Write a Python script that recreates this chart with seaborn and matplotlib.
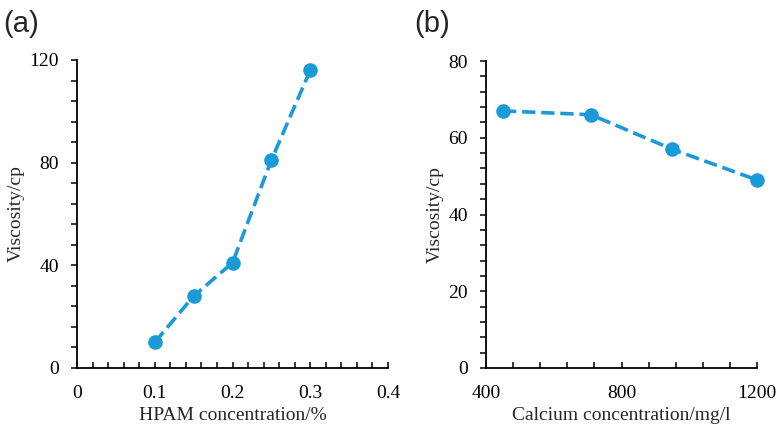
import matplotlib
matplotlib.use("Agg")
import matplotlib.pyplot as plt
import seaborn as sns
import numpy as np
from matplotlib.ticker import MultipleLocator

hpam_conc = [0.1, 0.15, 0.2, 0.25, 0.3]
hpam_visc = [10, 28, 41, 81, 116]
ca_conc = [450, 710, 950, 1200]
ca_visc = [67, 66, 57, 49]

sns.set_style("ticks")
plt.rcParams['font.family'] = ['Liberation Serif', 'DejaVu Serif']

color = '#1a9ad8'
fig = plt.figure(figsize=(7.82, 4.32), dpi=100)
axa = fig.add_axes([77/782, 64/432, 311/782, 308/432])
axb = fig.add_axes([486/782, 64/432, 271/782, 307/432])

def style(ax):
    for s in ['top', 'right']:
        ax.spines[s].set_visible(False)
    for s in ['left', 'bottom']:
        ax.spines[s].set_linewidth(1.3)
        ax.spines[s].set_color('black')
    ax.tick_params(axis='x', which='both', direction='in', length=4, width=1.1,
                   labelsize=14, pad=12, colors='black')
    ax.tick_params(axis='y', which='both', direction='out', length=4, width=1.1,
                   labelsize=14, pad=9, colors='black')
    ax.grid(False)

sns.lineplot(x=hpam_conc, y=hpam_visc, ax=axa, color=color, linestyle='--',
             linewidth=2.6, marker='o', markersize=10.5, markeredgewidth=0)
axa.set_xlim(0, 0.4)
axa.set_ylim(0, 120)
axa.xaxis.set_major_locator(MultipleLocator(0.1))
axa.xaxis.set_minor_locator(MultipleLocator(0.02))
axa.yaxis.set_major_locator(MultipleLocator(40))
axa.yaxis.set_minor_locator(MultipleLocator(8))
axa.set_xticks([0, 0.1, 0.2, 0.3, 0.4])
axa.set_xticklabels(['0', '0.1', '0.2', '0.3', '0.4'])
axa.set_xlabel('HPAM concentration/%', fontsize=14, labelpad=4)
axa.set_ylabel('Viscosity/cp', fontsize=14, labelpad=3)
style(axa)

sns.lineplot(x=ca_conc, y=ca_visc, ax=axb, color=color, linestyle='--',
             linewidth=2.6, marker='o', markersize=10.5, markeredgewidth=0)
axb.set_xlim(400, 1200)
axb.set_ylim(0, 80)
axb.xaxis.set_major_locator(MultipleLocator(400))
axb.xaxis.set_minor_locator(MultipleLocator(80))
axb.yaxis.set_major_locator(MultipleLocator(20))
axb.yaxis.set_minor_locator(MultipleLocator(4))
axb.set_xlabel('Calcium concentration/mg/l', fontsize=14, labelpad=4)
axb.set_ylabel('Viscosity/cp', fontsize=14, labelpad=3)
style(axb)
for ax in (axa, axb):
    for l in ax.get_lines():
        l.set_clip_on(False)

fig.text(3/782, 1 - 24/432, '(a)', fontsize=21, family='Liberation Sans', va='center', ha='left')
fig.text(414/782, 1 - 24/432, '(b)', fontsize=21, family='Liberation Sans', va='center', ha='left')

fig.savefig('out.png', dpi=100)
